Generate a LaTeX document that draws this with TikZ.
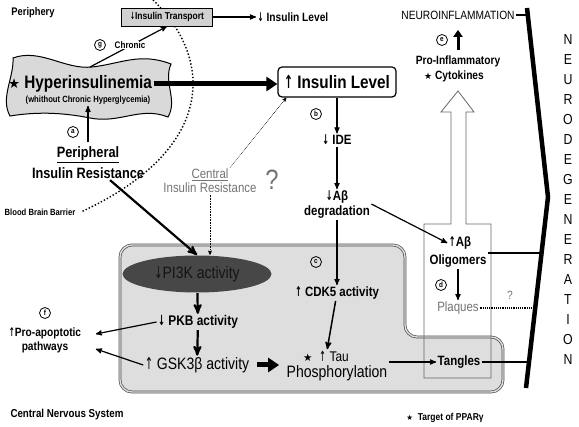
\documentclass[tikz,border=0pt]{standalone}
\usepackage{fontspec}
\setmainfont{Liberation Sans}[FakeStretch=0.85]
\newfontfamily\dejavu{DejaVu Sans}[Scale=0.75]
\newfontfamily\arrowfont{DejaVu Sans}[FakeStretch=0.6]
\newcommand\starsym{{\dejavu ★}}
\newcommand\uparr{{\arrowfont ↑}}
\newcommand\dnarr{{\arrowfont ↓}}
\newcommand\fsz[1]{\fontsize{#1}{#1}\selectfont}
\usetikzlibrary{arrows,arrows.meta,shapes.geometric,positioning}

\begin{document}
\begin{tikzpicture}[>=stealth',x=1pt,y=-1pt,line width=1.2pt,
                    every node/.style={inner sep=1pt,align=center}]

  \tikzstyle{smalltxt}=[font=\bfseries\fsz{11}]
  \tikzstyle{midtxt}=[font=\bfseries\fsz{13.5}]
  \tikzstyle{plaintxt}=[font=\fsz{16.5}]
  \tikzstyle{greytxt}=[text=black!55,font=\fsz{13.5}]
  \tikzstyle{letter}=[circle,draw,line width=0.8pt,inner sep=0pt,minimum size=11pt,font=\bfseries\fsz{7.5}]
  \tikzstyle{heavy}=[->,line width=2.2pt]
  \tikzstyle{fatarrow}=[line width=5pt,-{Triangle[length=11pt,width=14pt]}]

  \useasboundingbox (0,0) rectangle (579,427);

  % central nervous system box
  \draw[fill=black!13,draw=black!70,double=black!13,double distance=1.4pt,line width=0.7pt,rounded corners=12pt]
    (120,320) -- (120,245) -- (405,245) -- (405,337) -- (503,337) -- (503,392) -- (120,392) -- cycle;

  % open arrow of the oligomers column
  \draw[black!60,line width=0.8pt] (424,378) -- (424,224) -- (451,224) -- (451,112) -- (441,112)
    -- (458,91) -- (474,112) -- (466,112) -- (466,224) -- (491,224) -- (491,378) -- cycle;

  % blood brain barrier
  \node[font=\bfseries\fsz{9}] (bbb) at (40,212) {Blood Brain Barrier};
  \draw[dotted,line width=1.4pt] (153,0) .. controls (215,60) and (215,150) .. ([xshift=4pt]bbb.east);

  % neurodegeneration bar
  \coordinate (ntop) at (527,8);
  \coordinate (nmid) at (548,197);
  \coordinate (nbot) at (526,388);
  \coordinate (ninfin) at (528,15);
  \coordinate (oligin) at (542,249);
  \coordinate (plqin) at (535,306);
  \coordinate (tangin) at (529,362);
  \draw[line width=4.5pt] (ntop) -- (nmid) -- (nbot);
  \foreach \ch [count=\i] in {N,E,U,R,O,D,E,G,E,N,E,R,A,T,I,O,N}
    \node[font=\fsz{14.5}] (nd\i) at (568,20+20*\i) {\ch};

  % periphery
  \node[smalltxt] (per) at (33,13) {Periphery};
  \node[draw,line width=0.8pt,fill=black!18,minimum width=91pt,minimum height=18pt,font=\bfseries\fsz{10}]
    (trans) at (167,17) {\dnarr Insulin Transport};
  \node[font=\bfseries\fsz{12}] (lvltop) at (293,17) {\dnarr\ Insulin Level};

  \draw[fill=black!15,line width=1pt] (13,58) .. controls (40,48) and (65,70) .. (92,67)
    .. controls (120,64) and (140,52) .. (171,64)
    .. controls (163,82) and (178,100) .. (168,117)
    .. controls (140,106) and (120,124) .. (90,118)
    .. controls (60,112) and (35,112) .. (10,116)
    .. controls (0,98) and (14,78) .. (13,58) -- cycle;
  \coordinate (blobtop) at (90,67);
  \node[font=\bfseries\fsz{18}] (hyp) at (80,84) {\starsym\ Hyperinsulinemia};
  \node[font=\bfseries\fsz{9}] (hypsub) at (88,100) {(whithout Chronic Hyperglycemia)};

  \node[font=\bfseries\fsz{15}] (prtop) at (88,155) {\underline{Peripheral}};
  \node[font=\bfseries\fsz{15}] (prir) at (88,173) {Insulin Resistance};

  \node[draw,line width=1.2pt,rounded corners=4pt,minimum width=118pt,minimum height=30pt,
        font=\bfseries\fsz{18}] (lvl) at (337,82) {\uparr\ Insulin Level};

  \node[greytxt] (cir1) at (210,175) {\underline{Central}};
  \node[greytxt] (cir2) at (210,188) {Insulin Resistance};
  \node[text=black!55,font=\fsz{28}] (ciq) at (272,180) {?};

  % amyloid side
  \node[midtxt] (ide) at (337,140) {\dnarr\ IDE};
  \node[midtxt] (abd1) at (337,197) {\dnarr Aβ};
  \node[midtxt] (abd2) at (337,212) {degradation};
  \node[midtxt] (cdk) at (337,293) {\uparr\ CDK5 activity};
  \node[font=\fsz{14}] (tau) at (326,356) {\starsym\ \ \uparr\ Tau};
  \node[plaintxt] (phos) at (337,373) {Phosphorylation};

  \node[midtxt] (olig1) at (460,243) {\uparr Aβ};
  \node[midtxt] (olig2) at (458,261) {Oligomers};
  \node[greytxt] (plq) at (458,308) {Plaques};
  \node[text=black!55,font=\fsz{12}] (plqq) at (510,295) {?};
  \node[midtxt] (tang) at (459,362) {Tangles};

  \node[font=\fsz{12}] (ninf) at (458,15) {NEUROINFLAMMATION};
  \node[font=\bfseries\fsz{12}] (cyt1) at (458,61) {Pro-Inflammatory};
  \node[font=\bfseries\fsz{12}] (cyt2) at (454,76) {\starsym\ Cytokines};

  % insulin signalling
  \node[ellipse,fill=black!72,minimum width=149pt,minimum height=37pt,text=black!92,font=\fsz{16.5}]
    (pi3k) at (197,274) {\dnarr PI3K activity};
  \node[font=\bfseries\fsz{14}] (pkb) at (198,322) {\dnarr\ PKB activity};
  \node[plaintxt] (gsk) at (197,365) {\uparr\ GSK3β activity};
  \node[align=center,font=\bfseries\fontsize{12}{14}\selectfont] (apo) at (45,340) {\uparr Pro-apoptotic\\pathways};

  % letters
  \node[letter] (la) at (73,132) {a};
  \node[letter] (lb) at (316,114) {b};
  \node[letter] (lc) at (316,262) {c};
  \node[letter] (ld) at (441,285) {d};
  \node[letter] (le) at (442,40) {e};
  \node[letter] (lf) at (45,313) {f};
  \node[letter] (lg) at (100,45) {g};

  \node[font=\bfseries\fsz{11.5}] (cns) at (67,415) {Central Nervous System};
  \node[font=\bfseries\fsz{10}] (ppar) at (445,418) {\starsym\ \ Target of PPARγ};

  % connectors
  \draw[->] (blobtop) -- (trans.south);
  \node[fill=white,font=\bfseries\fsz{9.5}] (chr) at (130,45) {Chronic};
  \draw[fatarrow] (hyp.east) -- (hyp.east -| lvl.west);
  \draw[->,shorten <=3pt] (prtop) -- (hypsub);
  \draw[heavy] ([xshift=22pt]prir.south) -- (pi3k.north);
  \draw[->,densely dotted,line width=0.6pt] (cir1.north east) -- ([xshift=9pt]lvl.south west);
  \draw[->,densely dotted,line width=0.6pt] (cir2.south) -- (cir2.south |- pi3k.north);

  \path[->]
  (trans) edge (lvltop)
  (lvl)   edge (ide)
  (ide)   edge (abd1)
  (abd2)  edge (cdk)
  (olig2) edge (plq)
  ;
  \draw[->,line width=1.5pt] (cdk) -- (tau);
  \draw[->] (abd2.north east) -- (olig1.west);
  \draw[->] (phos.east |- tang.west) -- (tang.west);

  \draw[heavy] (pi3k) -- (pkb);
  \draw[heavy] (pkb) -- (gsk);
  \draw[fatarrow,shorten <=6pt,shorten >=6pt] (gsk.east) -- (gsk.east -| phos.west);
  \draw[->] (pkb.west) -- ([xshift=13pt,yshift=6pt]apo.east);
  \draw[->] (gsk.west) -- ([xshift=13pt,yshift=-9pt]apo.east);

  \draw[line width=3pt,-{Triangle[length=7pt,width=9pt]},shorten <=4pt,shorten >=9pt] (cyt1) -- (ninf);

  \draw (olig2.north east) -- (olig2.north east -| oligin);
  \draw[densely dotted] (plq.east) -- (plq.east -| plqin);
  \draw (tang.east) -- (tang.east -| tangin);
  \draw (ninf.east) -- (ninf.east -| ninfin);
\end{tikzpicture}
\end{document}
